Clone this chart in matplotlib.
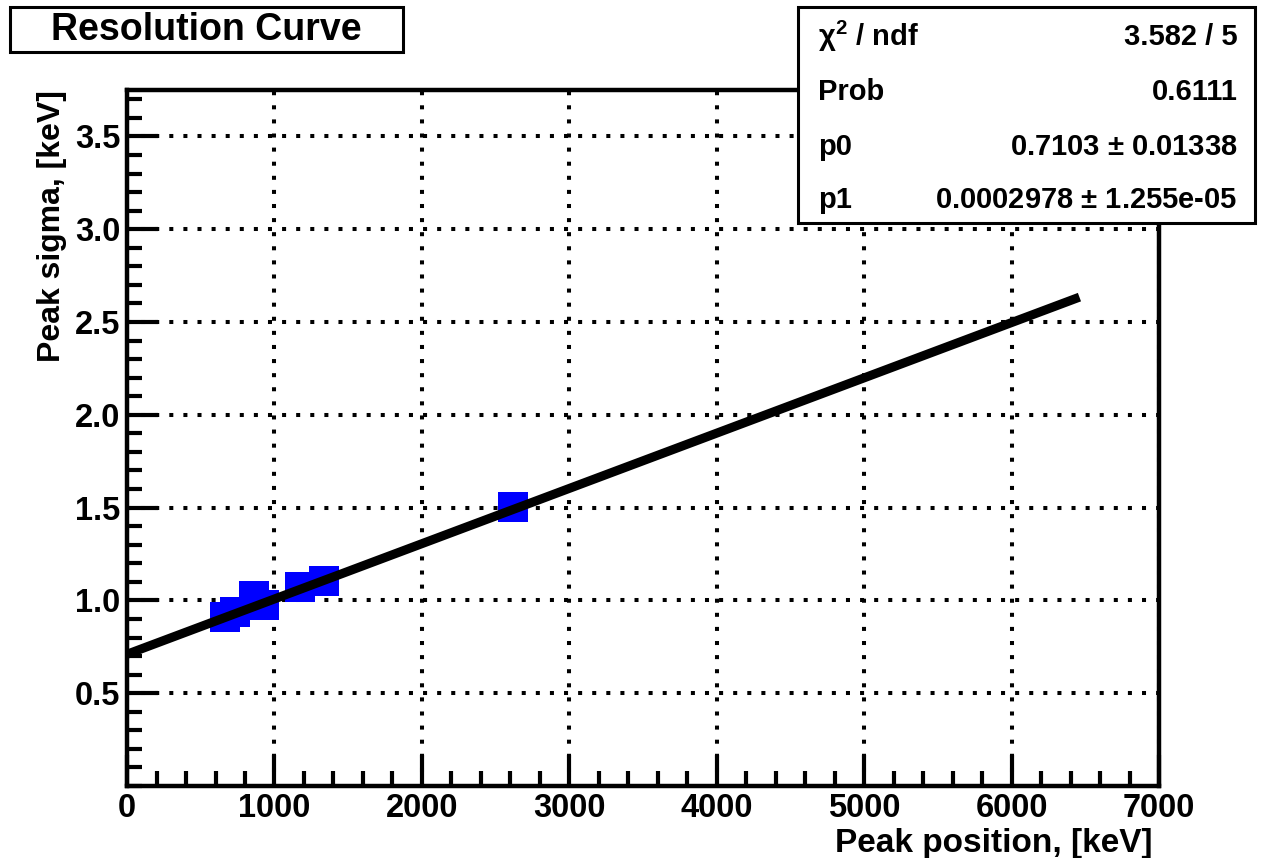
import matplotlib
matplotlib.use("Agg")
import matplotlib.pyplot as plt
from matplotlib.ticker import MultipleLocator, FixedLocator
from matplotlib.patches import Rectangle

# measured peaks: position [keV] vs sigma [keV]
peak_pos = [662, 734, 864, 926, 1176, 1333, 2618]
peak_sigma = [0.912, 0.939, 1.022, 0.975, 1.072, 1.106, 1.505]

# linear fit drawn over the fit range
fit_x = [0, 6460]
fit_y = [0.710, 2.634]

stats_names = [r"$\chi^2$ / ndf", "Prob", "p0", "p1"]
stats_vals = ["3.582 / 5", "0.6111", r"0.7103 $\pm$ 0.01338", r"0.0002978 $\pm$ 1.255e-05"]

x_ticks = [0, 1000, 2000, 3000, 4000, 5000, 6000, 7000]
y_ticks = [0.5, 1.0, 1.5, 2.0, 2.5, 3.0, 3.5]

plt.rcParams['font.family'] = ['Liberation Sans', 'DejaVu Sans']
plt.rcParams['font.weight'] = 'bold'
plt.rcParams['mathtext.default'] = 'regular'

fig = plt.figure(figsize=(12.63, 8.58), dpi=100)
ax = fig.add_axes([0.1006, 0.0839, 0.8171, 0.8112])

ax.plot(peak_pos, peak_sigma, linestyle='none', marker='s', markersize=21,
        color='#0000ff', markeredgewidth=0, zorder=3)
ax.plot(fit_x, fit_y, color='black', linewidth=6.5, solid_capstyle='butt', zorder=4)

ax.set_xlim(0, 7000)
ax.set_ylim(0, 3.75)
ax.xaxis.set_major_locator(FixedLocator(x_ticks))
ax.yaxis.set_major_locator(FixedLocator(y_ticks))
ax.xaxis.set_minor_locator(MultipleLocator(200))
ax.yaxis.set_minor_locator(MultipleLocator(0.1))
ax.set_xticklabels([str(v) for v in x_ticks])
ax.set_yticklabels(["%.1f" % v for v in y_ticks])

ax.tick_params(which='both', direction='in', top=False, right=False, width=3, labelsize=23.5)
ax.tick_params(which='major', length=22)
ax.tick_params(which='minor', length=11)
ax.tick_params(axis='y', pad=5)
ax.tick_params(axis='x', pad=5)
for sp in ax.spines.values():
    sp.set_linewidth(3.2)

ax.grid(True, which='major', color='black', linewidth=2.9, linestyle=(0, (1, 2.5)))
ax.set_axisbelow(True)

ax.set_xlabel("Peak position, [keV]", fontsize=24, fontweight='bold', ha='right', va='top')
ax.xaxis.set_label_coords(0.994, -0.061)
ax.set_ylabel("Peak sigma, [keV]", fontsize=23, fontweight='bold', ha='right', va='bottom')
ax.yaxis.set_label_coords(-0.058, 1.0)

# title box
fig.patches.append(Rectangle((0.0079, 0.939), 0.311, 0.053, transform=fig.transFigure,
                             facecolor='white', edgecolor='black', linewidth=2.2, zorder=5))
fig.text(0.163, 0.9655, "Resolution Curve", fontsize=27, fontweight='bold',
         ha='center', va='center', zorder=6)

# stats box
fig.patches.append(Rectangle((0.632, 0.740), 0.362, 0.252, transform=fig.transFigure,
                             facecolor='white', edgecolor='black', linewidth=2.2, zorder=5))
row_y = [0.957, 0.893, 0.829, 0.767]
for name, val, yy in zip(stats_names, stats_vals, row_y):
    fig.text(0.648, yy, name, fontsize=21, fontweight='bold', ha='left', va='center', zorder=6)
    fig.text(0.980, yy, val, fontsize=21, fontweight='bold', ha='right', va='center', zorder=6)

fig.savefig("out.png", dpi=100)
plt.close()
